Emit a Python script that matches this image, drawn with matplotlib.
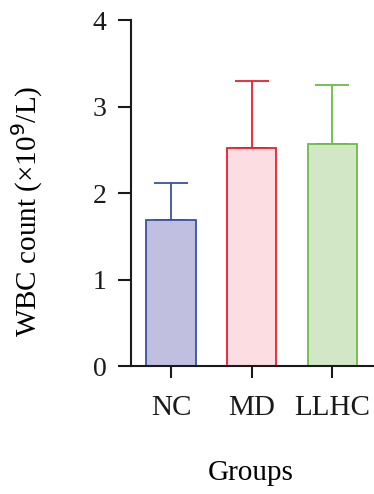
import numpy as np
import matplotlib
matplotlib.use('Agg')
import matplotlib.pyplot as plt

plt.rcParams['font.family'] = ['Liberation Serif', 'DejaVu Serif']

# Данные
groups = ['NC', 'MD', 'LLHC']
means = [1.69, 2.52, 2.565]
upper = [2.115, 3.30, 3.245]
fill_colors = ['#c1bfe0', '#fcdde1', '#d1e7c6']
edge_colors = ['#3953a4', '#ed1c2e', '#6abd45']

errs = np.array(upper) - np.array(means)

fig = plt.figure(figsize=(3.74, 4.94), dpi=100)
ax = fig.add_axes([0.350, 0.259, 0.650, 0.7004])

x = np.arange(len(groups))
for i in range(len(groups)):
    ax.bar(x[i], means[i], width=0.61, color=fill_colors[i],
           edgecolor=edge_colors[i], linewidth=1.3, zorder=2)
    ax.errorbar(x[i], means[i], yerr=[[0], [errs[i]]], fmt='none',
                ecolor=edge_colors[i], elinewidth=1.3, capsize=12.5,
                capthick=1.3, zorder=1)

ax.set_xlim(-0.497, 2.52)
ax.set_ylim(0, 4)
ax.set_yticks([0, 1, 2, 3, 4])
ax.set_xticks(x)
ax.set_xticklabels(groups)

for s in ['top', 'right']:
    ax.spines[s].set_visible(False)
for s in ['left', 'bottom']:
    ax.spines[s].set_linewidth(1.5)
    ax.spines[s].set_color('#1a1a1a')

ax.tick_params(axis='y', length=9.5, width=1.5, labelsize=20, pad=8, colors='#1a1a1a')
ax.tick_params(axis='x', length=8.6, width=1.5, labelsize=21, pad=12, colors='#1a1a1a')

ax.set_ylabel('WBC count (×10$^{9}$/L)', fontsize=21)
ax.set_xlabel('Groups', fontsize=21)
ax.yaxis.set_label_coords(-0.354, 0.448)
ax.xaxis.set_label_coords(0.494, -0.272)

fig.savefig('out.png', dpi=100)
